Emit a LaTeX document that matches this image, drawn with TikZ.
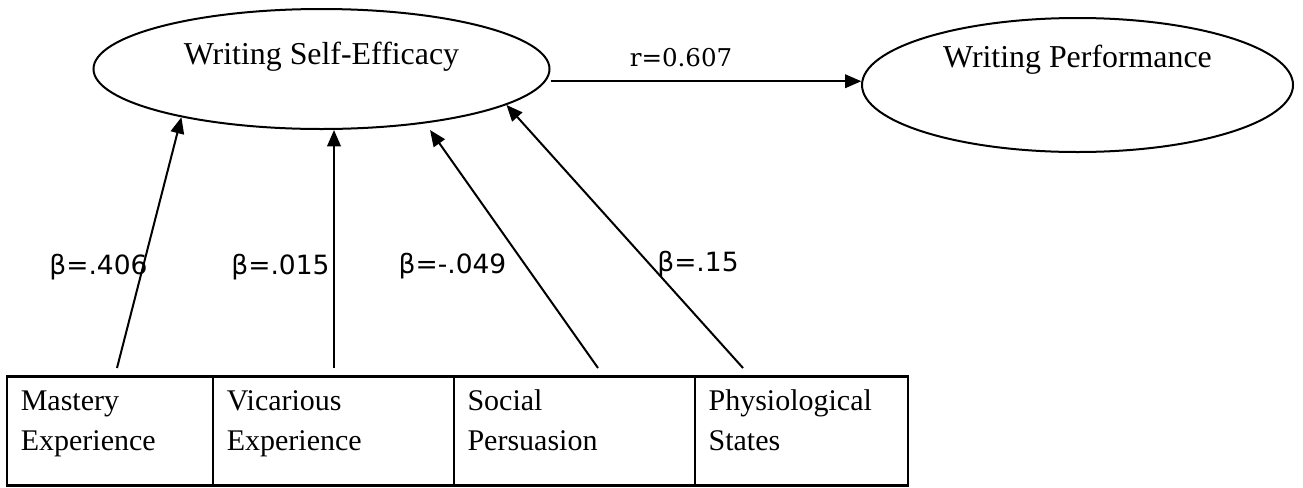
\documentclass[tikz,border=0pt]{standalone}
\usepackage{fontspec}
\setmainfont{Liberation Serif}
\newfontfamily\coeffont{DejaVu Sans}
\newfontfamily\corrfont{DejaVu Serif}
\usetikzlibrary{shapes.geometric}
\usetikzlibrary{arrows.meta}

\tikzset{
  latent/.style={draw, ellipse, line width=0.8pt, inner sep=0pt, font=\fontsize{12.75pt}{15pt}\selectfont, text height=8.5pt},
  cellbox/.style={draw, rectangle, line width=0.9pt, anchor=north west, outer sep=0pt, align=left, inner xsep=5.4pt, inner ysep=0pt, font=\fontsize{12pt}{16pt}\selectfont, text height=13.6pt, text depth=30pt},
  effect/.style={-{Triangle[length=6.5pt,width=5.4pt]}, line width=0.8pt},
  coef/.style={font=\coeffont\fontsize{10.6pt}{12pt}\selectfont, anchor=base, inner sep=0pt},
}

\begin{document}
\begin{tikzpicture}[x=0.4pt,y=0.4pt,yscale=-1,xscale=1]
\useasboundingbox (0,0) rectangle (1303,487);

%Shape: Ellipse [Writing Self-Efficacy]
\node[latent, minimum width=182.4pt, minimum height=48pt, text depth=12pt] (wse) at (321.5,69) {Writing Self-Efficacy};
%Shape: Ellipse [Writing Performance]
\node[latent, minimum width=172.4pt, minimum height=53.6pt, text depth=22.6pt] (wp) at (1077.5,85) {Writing Performance};

%Table: sources of self-efficacy
\node[cellbox, text width=71.6pt] (me) at (7.3,376.5) {Mastery\\Experience};
\node[cellbox, text width=85.5pt] (ve) at (me.north east) {Vicarious\\Experience};
\node[cellbox, text width=85.6pt] (sp) at (ve.north east) {Social\\Persuasion};
\node[cellbox, text width=74.4pt] (ps) at (sp.north east) {Physiological\\States};

%Arrow tails and free tips
\coordinate (me-tail) at (117,368);
\coordinate (ve-tail) at (334,368);
\coordinate (sp-tail) at (598,368);
\coordinate (ps-tail) at (743,368);
\coordinate (sp-tip) at (430,130);

%Straight Lines
\draw[effect] (me-tail) -- (wse.199);
\draw[effect] (ve-tail) -- (ve-tail |- wse.south);
\draw[effect] (sp-tail) -- (sp-tip);
\draw[effect] (ps-tail) -- (wse.-11.8);
\draw[effect] (wse.east |- wp.179.3) -- (wp.179.3);

% Text Node
\node[font=\corrfont\fontsize{9.8pt}{12pt}\selectfont, anchor=base, inner sep=0pt] (rcoef) at (681,66.7) {r=0.607};

% Text Node
\node[coef] (me-coef) at (98.5,274) {β=.406};
% Text Node
\node[coef] (ve-coef) at (280.5,274) {β=.015};
% Text Node
\node[coef] (sp-coef) at (452.5,273) {β=-.049};
% Text Node
\node[coef] (ps-coef) at (698,271) {β=.15};

\end{tikzpicture}
\end{document}
